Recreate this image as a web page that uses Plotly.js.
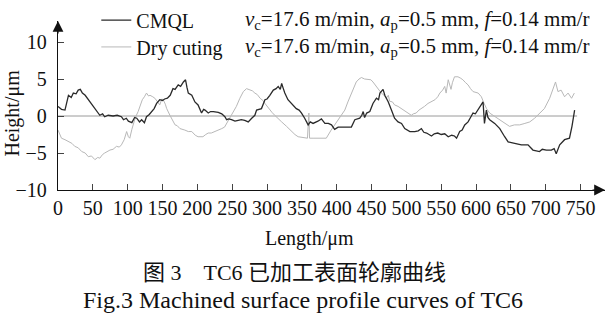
<!DOCTYPE html>
<html>
<head>
<meta charset="utf-8">
<script src="https://cdn.plot.ly/plotly-3.0.1.min.js"></script>
<style>html,body{margin:0;padding:0;background:#fff;}#chart{width:612px;height:327px;}</style>
</head>
<body>
<div id="chart"></div>
<script>
// ---- data ----
var cmqlX = [0,5,10,13,15,19,22,26,29,32,35,39,42,46,51,55,60,64,67,72,79,85,91,94,98,101,106,110,113,117,120,124,127,131,134,138,141.5,146,150,153,157,161,165,168,172.5,176,180,183,185,187,192,196.5,201,203,206,209,211,215.6,219,223,230,235,239.5,242,245,249,254,258.6,263,268,273,278,282.5,285,289,292,297,300,304,309,313,316,319,321,323,325.5,330,335,342,346,349.5,354,359,362,366,373,378,383,388,392.5,397,402,411.6,421,426,430,433,436,438,440,443,447.5,452,457,460,462,466.5,469,474,478.5,483,488,493,497.6,505,512,517,521.5,525,529,536,540,545,550,555,560,565,569,572,576.5,580,583.7,588.5,592,595.6,599,602.8,607.6,610,612,614.8,617,619.5,626.7,634,641,646,655.4,665,674.5,681.6,691,695,700.8,708,712,715,720,727,734,737.6,741.4];
var cmqlY = [1.3,0.9,0.8,1.8,2.8,2.5,3.1,3.0,3.5,3.6,3.1,2.8,2.4,1.9,1.3,0.8,0.1,0.3,-0.1,0.1,0.0,0.1,-0.1,-0.5,-0.3,-0.7,-0.9,-0.2,-0.3,-0.8,-0.5,-0.9,-0.1,0.2,0.6,1.0,1.7,2.2,2.1,2.3,2.4,2.8,3.7,3.6,4.2,4.0,4.6,4.9,3.9,3.1,2.8,1.9,1.5,1.0,0.4,0.9,0.8,0.4,0.6,0.6,0.5,0.3,-0.1,-0.5,-0.4,-0.5,-0.7,-0.6,-0.5,-0.6,-0.8,-0.3,0.1,0.8,0.9,1.0,2.2,2.3,2.8,3.5,3.7,4.0,3.6,4.4,3.8,3.1,2.2,1.7,1.0,0.8,0.4,-0.3,-1.2,-0.8,-1.0,-0.7,-0.4,-1.0,-1.0,-1.2,-1.8,-1.5,-1.5,-1.5,-0.5,-0.4,-0.3,0.1,0.6,-0.2,0.4,0.6,1.7,2.4,2.2,3.1,3.6,2.8,1.9,0.8,-0.3,-0.8,-1.0,-1.7,-2.1,-2.1,-2.0,-1.7,-2.2,-2.3,-2.7,-2.4,-2.3,-2.5,-2.4,-2.8,-2.6,-2.7,-3.0,-2.1,-1.9,-1.2,-0.8,-0.2,0.4,0.3,0.8,1.5,1.9,-1.0,0.8,-0.2,-0.5,-1.0,-1.7,-2.8,-3.5,-3.7,-3.9,-3.9,-4.6,-4.8,-4.5,-4.6,-4.6,-4.4,-5.1,-3.9,-3.2,-3.0,-1.4,0.8];

var dryX = [0,3,5,10,15,20,24,29,34,39,43.5,48,53,57,60,64,67,70,74.6,79,84,88,91,95,98.5,101,103,106,108,111,115,118,121,124,127,130,132,136,139,143,146,149,151,154,156,160.6,164,168,171,175,182,187,192,197,201,208,212,215.6,220,225,230,235,239,242,246,249,252,256,261,266,270.6,275,279,282.5,286,290,294,297,300,304,307,311,316,321,328,335,340,344.6,350,354,358,360,361,366,373,380,385,392,397,402,407,411.6,416,421,425,428,432,435.5,440,445,449,452,457,460,464,468,471,474,476,480,483,488,493,498,502,507,510,514,518,521.5,526,531,536,541,545,548,552,555,557,560,564,566,569,574,578,581,585,588.5,592,595.6,603,607.6,611,615,619.5,627,634,641,648,655,662.5,670,677,684,691,698,705.6,710,714,717.5,722,727,732,737,741];
var dryY = [-1.9,-2.6,-3.0,-3.2,-3.5,-3.7,-4.1,-4.3,-4.8,-5.0,-5.5,-5.4,-5.9,-5.6,-5.7,-5.2,-5.0,-4.8,-4.6,-4.5,-4.1,-4.2,-3.9,-3.2,-2.1,-2.8,-3.0,-1.8,-1.0,-0.2,0.6,1.5,2.2,2.6,3.1,2.7,2.8,2.6,2.4,1.9,1.5,2.3,2.2,1.6,1.0,0.1,-0.6,-1.2,-1.3,-1.7,-1.9,-2.1,-2.1,-2.6,-2.8,-2.8,-2.5,-2.3,-2.3,-2.1,-2.0,-1.7,-1.5,-1.0,-0.4,0.1,0.6,1.3,2.4,3.3,3.7,3.5,3.4,3.1,2.9,2.4,2.1,1.7,1.3,0.8,0.5,0.1,-0.3,-0.8,-1.4,-2.1,-2.5,-2.8,-2.9,-3.0,-3.0,0.4,-3.0,-3.0,-3.0,-2.9,-3.0,-1.9,-1.2,-0.6,0.2,0.8,1.9,3.1,3.9,4.6,5.0,5.2,5.0,4.9,4.9,4.6,4.0,3.6,3.1,2.8,2.4,2.8,2.0,1.9,1.5,1.3,1.0,0.7,0.4,0.1,0.3,0.4,0.8,1.0,1.3,1.7,1.9,2.2,2.6,3.1,3.5,4.0,3.1,4.9,3.6,4.5,5.3,5.3,5.1,4.9,4.5,4.2,3.7,3.3,3.1,2.6,1.8,1.0,0.4,-0.1,-0.5,-1.0,-1.4,-1.2,-1.2,-1.0,-0.8,-0.3,0.4,1.0,2.4,3.5,4.6,3.3,3.5,2.6,3.1,2.4,3.1];

var refLineX = [0, 745];
var refLineY = [0, 0];

var xTicks = [0,50,100,150,200,250,300,350,400,450,500,550,600,650,700,750];
var yTicks = [-10,-5,0,5,10];
var seriesNames = ['CMQL', 'Dry cuting'];
var paramText = '<i>v</i><sub>c</sub>=17.6 m/min, <i>a</i><sub>p</sub>=0.5 mm, <i>f</i>=0.14 mm/r';
var xTitle = 'Length/μm';
var yTitle = 'Height/μm';
var captionCN = '图 3　TC6 已加工表面轮廓曲线';
var captionEN = 'Fig.3 Machined surface profile curves of TC6';

var serif = '"Liberation Serif", "Times New Roman", serif';
var cjk = '"Liberation Serif", "Noto Sans CJK SC", serif';
var ink = '#111';

var traces = [
  {x: refLineX, y: refLineY, mode: 'lines', line: {color: '#9a9a9a', width: 1}, showlegend: false, hoverinfo: 'skip'},
  {x: dryX, y: dryY, mode: 'lines', name: seriesNames[1], legend: 'legend2', line: {color: '#b8b8b8', width: 1}},
  {x: cmqlX, y: cmqlY, mode: 'lines', name: seriesNames[0], legend: 'legend', line: {color: '#2a2a2a', width: 1.3}}
];

function legendBox(yPos) {
  return {x: 0.07, y: yPos, xanchor: 'left', yanchor: 'top', bgcolor: 'rgba(0,0,0,0)',
          font: {family: serif, size: 20, color: ink}};
}

var layout = {
  width: 612, height: 327,
  margin: {l: 58, r: 7, t: 21, b: 137, autoexpand: false},
  paper_bgcolor: '#fff', plot_bgcolor: '#fff',
  font: {family: serif, size: 20, color: ink},
  showlegend: true,
  legend: legendBox(1.12),
  legend2: legendBox(0.962),
  xaxis: {range: [0, 785], tickvals: xTicks, ticks: 'inside', ticklen: 6, tickwidth: 1,
          showline: true, linecolor: ink, linewidth: 1.2, showgrid: false, zeroline: false,
          automargin: false, tickfont: {family: serif, size: 20, color: ink}},
  yaxis: {range: [-10, 12.84], tickvals: yTicks, ticks: 'inside', ticklen: 6, tickwidth: 1,
          ticklabelstandoff: 6, automargin: false,
          showline: true, linecolor: ink, linewidth: 1.2, showgrid: false, zeroline: false,
          tickfont: {family: serif, size: 20, color: ink}},
  annotations: [
    {xref: 'x', yref: 'y', x: 785, y: -10, ax: -14, ay: 0, text: '', showarrow: true,
     arrowhead: 2, arrowsize: 1.8, arrowwidth: 1.2, arrowcolor: ink, standoff: 0},
    {xref: 'x', yref: 'y', x: 0, y: 12.84, ax: 0, ay: 14, text: '', showarrow: true,
     arrowhead: 2, arrowsize: 1.8, arrowwidth: 1.2, arrowcolor: ink, standoff: 0},
    {xref: 'paper', yref: 'paper', x: 0.338, y: 1.006, xanchor: 'left', yanchor: 'middle',
     text: paramText, showarrow: false, font: {family: serif, size: 21, color: ink}},
    {xref: 'paper', yref: 'paper', x: 0.338, y: 0.846, xanchor: 'left', yanchor: 'middle',
     text: paramText, showarrow: false, font: {family: serif, size: 21, color: ink}},
    {xref: 'paper', yref: 'paper', x: 0.46, y: -0.285, xanchor: 'center', yanchor: 'middle',
     text: xTitle, showarrow: false, font: {family: serif, size: 20, color: ink}},
    {xref: 'paper', yref: 'paper', x: -0.083, y: 0.456, xanchor: 'center', yanchor: 'middle',
     text: yTitle, textangle: -90, showarrow: false, font: {family: serif, size: 20, color: ink}},
    {xref: 'paper', yref: 'paper', x: 0.433, y: -0.49, xanchor: 'center', yanchor: 'middle',
     text: captionCN, showarrow: false, font: {family: cjk, size: 22, color: ink}},
    {xref: 'paper', yref: 'paper', x: 0.448, y: -0.65, xanchor: 'center', yanchor: 'middle',
     text: captionEN, showarrow: false, font: {family: serif, size: 24, color: ink}}
  ]
};

Plotly.newPlot('chart', traces, layout, {displayModeBar: false, staticPlot: true});
</script>
</body>
</html>
